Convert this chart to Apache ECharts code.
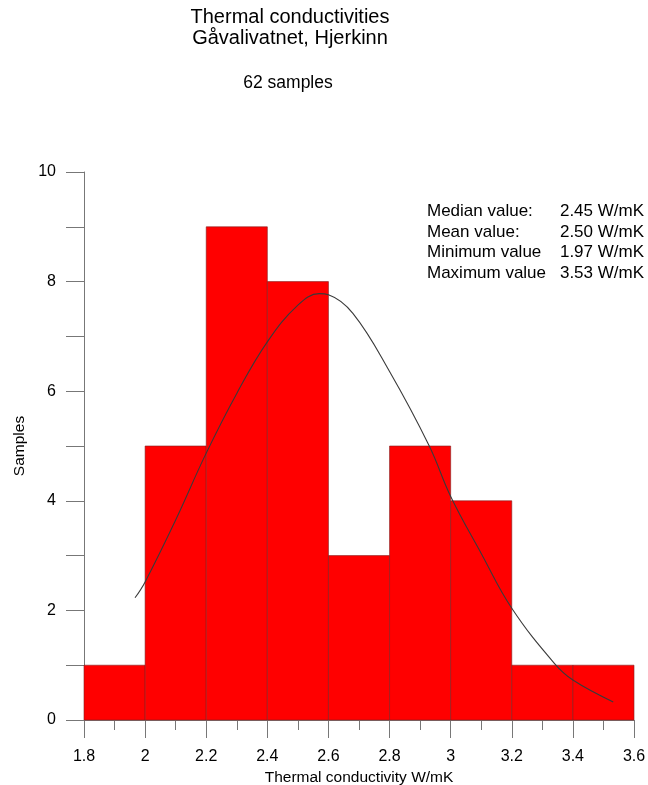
<!DOCTYPE html>
<html>
<head>
<meta charset="utf-8">
<script src="https://cdn.jsdelivr.net/npm/echarts@6/dist/echarts.min.js"></script>
<style>html,body{margin:0;padding:0;background:#fff}#c{width:648px;height:785px}</style>
</head>
<body>
<div id="c"></div>
<script>
// Histogram bins (lower edge, upper edge) and counts
const binStart = [1.8, 2.0, 2.2, 2.4, 2.6, 2.8, 3.0, 3.2, 3.4];
const binEnd   = [2.0, 2.2, 2.4, 2.6, 2.8, 3.0, 3.2, 3.4, 3.6];
const counts   = [1, 5, 9, 8, 3, 5, 4, 1, 1];

// Fitted curve
const curveX = [1.967, 2.0, 2.1, 2.2, 2.3, 2.4, 2.5, 2.57, 2.6, 2.68, 2.8, 2.93, 3.0, 3.1, 3.2, 3.34, 3.4, 3.532];
const curveY = [2.23, 2.52, 3.65, 4.87, 5.96, 6.90, 7.57, 7.78, 7.76, 7.42, 6.36, 5.0, 4.08, 3.04, 2.04, 1.03, 0.73, 0.33];

const statLabels = ['Median value:', 'Mean value:', 'Minimum value', 'Maximum value'];
const statValues = ['2.45 W/mK', '2.50 W/mK', '1.97 W/mK', '3.53 W/mK'];

const titleLines = ['Thermal conductivities', 'Gåvalivatnet, Hjerkinn'];
const subtitle = '62 samples';
const xName = 'Thermal conductivity W/mK';
const yName = 'Samples';

const FONT = '"Liberation Sans", Arial, sans-serif';
const chart = echarts.init(document.getElementById('c'), null, {renderer: 'canvas'});

const barData = binStart.map((s, i) => [s, binEnd[i], counts[i]]);
const lineData = curveX.map((x, i) => [x, curveY[i]]);

const graphics = [];
graphics.push({type: 'text', x: 290, y: 7, style: {text: titleLines.join('\n'), font: '20px ' + FONT, fill: '#000', align: 'center', lineHeight: 21}});
graphics.push({type: 'text', x: 288, y: 74, style: {text: subtitle, font: '17.5px ' + FONT, fill: '#000', align: 'center'}});
statLabels.forEach((t, i) => {
  graphics.push({type: 'text', x: 427, y: 203 + i * 20.5, style: {text: t, font: '17px ' + FONT, fill: '#000', align: 'left'}});
  graphics.push({type: 'text', x: 644, y: 203 + i * 20.5, style: {text: statValues[i], font: '17px ' + FONT, fill: '#000', align: 'right'}});
});

chart.setOption({
  animation: false,
  backgroundColor: '#fff',
  grid: {left: 84, right: 14, top: 172, bottom: 65, containLabel: false, outerBoundsMode: 'none'},
  xAxis: {
    type: 'value', min: 1.8, max: 3.6, interval: 0.2,
    name: xName, nameLocation: 'middle', nameGap: 42,
    nameTextStyle: {fontFamily: FONT, fontSize: 15.5, color: '#000'},
    axisLine: {show: true, onZero: false, lineStyle: {color: '#777', width: 1}},
    axisTick: {show: true, length: 18, lineStyle: {color: '#777'}},
    minorTick: {show: true, splitNumber: 2, length: 10, lineStyle: {color: '#777'}},
    axisLabel: {fontFamily: FONT, fontSize: 16, color: '#000', margin: 29, showMinLabel: true, showMaxLabel: true},
    splitLine: {show: false}
  },
  yAxis: {
    type: 'value', min: 0, max: 10, interval: 1,
    name: yName, nameLocation: 'middle', nameGap: 56, nameRotate: 90,
    nameTextStyle: {fontFamily: FONT, fontSize: 15.5, color: '#000'},
    axisLine: {show: true, lineStyle: {color: '#777', width: 1}},
    axisTick: {show: true, length: 18, lineStyle: {color: '#777'}},
    axisLabel: {fontFamily: FONT, fontSize: 16, color: '#000', margin: 28,
      formatter: v => (Math.round(v) % 2 === 0 ? String(Math.round(v)) : '')},
    splitLine: {show: false}
  },
  series: [
    {
      type: 'custom',
      data: barData,
      encode: {x: [0, 1], y: 2},
      renderItem: (params, api) => {
        const p0 = api.coord([api.value(0), api.value(2)]);
        const p1 = api.coord([api.value(1), 0]);
        return {
          type: 'rect',
          shape: {x: p0[0], y: p0[1], width: p1[0] - p0[0], height: p1[1] - p0[1]},
          style: {fill: '#ff0000', stroke: 'rgba(130,30,30,0.6)', lineWidth: 1}
        };
      },
      z: 1
    },
    {
      type: 'line',
      data: lineData,
      smooth: 0.4,
      showSymbol: false,
      lineStyle: {color: '#3a3a3a', width: 1.1},
      z: 3
    }
  ],
  graphic: graphics
});
</script>
</body>
</html>
